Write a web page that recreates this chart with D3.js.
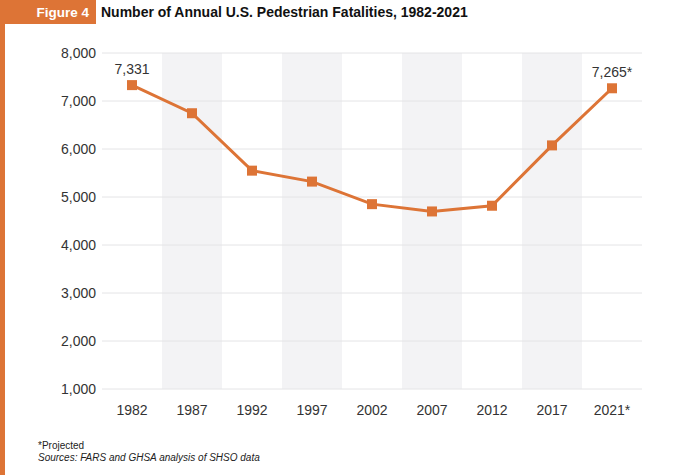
<!DOCTYPE html>
<html>
<head>
<meta charset="utf-8">
<script src="https://cdn.jsdelivr.net/npm/d3@7"></script>
<style>
  body { margin: 0; background: #fff; }
  text { font-family: "Liberation Sans", Arial, Helvetica, sans-serif; }
</style>
</head>
<body>
<div id="chart"></div>
<script>
const years = ["1982", "1987", "1992", "1997", "2002", "2007", "2012", "2017", "2021"];
const yearLabels = ["1982", "1987", "1992", "1997", "2002", "2007", "2012", "2017", "2021*"];
const fatalities = [7331, 6745, 5549, 5321, 4851, 4699, 4818, 6075, 7265];
const yTicks = [1000, 2000, 3000, 4000, 5000, 6000, 7000, 8000];
const labelled = { "1982": "7,331", "2021": "7,265*" };

const width = 680;
const height = 475;
const orange = "#dd7436";

const svg = d3.select("#chart")
    .append("svg")
    .attr("width", width)
    .attr("height", height);

// left accent bar and header tab
svg.append("rect")
    .attr("x", 0).attr("y", 0)
    .attr("width", 5).attr("height", height)
    .attr("fill", orange);

svg.append("rect")
    .attr("x", 2).attr("y", 0)
    .attr("width", 94).attr("height", 24)
    .attr("fill", orange);

svg.append("text")
    .attr("x", 89).attr("y", 17)
    .attr("text-anchor", "end")
    .attr("font-size", "13.5px")
    .attr("font-weight", "bold")
    .attr("fill", "#fff")
    .text("Figure 4");

svg.append("text")
    .attr("x", 101).attr("y", 17)
    .attr("font-size", "14px")
    .attr("font-weight", "bold")
    .attr("fill", "#111")
    .text("Number of Annual U.S. Pedestrian Fatalities, 1982-2021");

const x = d3.scaleBand()
    .domain(years)
    .range([102, 642]);

const y = d3.scaleLinear()
    .domain([1000, 8000])
    .range([389, 53]);

// alternating shaded columns
svg.append("g")
    .selectAll("rect")
    .data(years.filter((d, i) => i % 2 === 1))
    .enter().append("rect")
    .attr("x", d => x(d))
    .attr("y", y(8000))
    .attr("width", x.bandwidth())
    .attr("height", y(1000) - y(8000))
    .attr("fill", "#f3f3f5");

// gridlines
svg.append("g")
    .selectAll("line")
    .data(yTicks)
    .enter().append("line")
    .attr("x1", 102)
    .attr("x2", 642)
    .attr("y1", d => y(d))
    .attr("y2", d => y(d))
    .attr("stroke", "#e4e4e6")
    .attr("stroke-width", 1);

// y axis labels
const yAxis = svg.append("g")
    .attr("transform", "translate(96,0)")
    .call(d3.axisLeft(y).tickValues(yTicks).tickSize(0).tickPadding(0).tickFormat(d3.format(",")));
yAxis.select(".domain").remove();
yAxis.selectAll("text")
    .attr("font-size", "14px")
    .attr("fill", "#333")
    .style("font-family", "'Liberation Sans', Arial, sans-serif");

// x axis labels
const xAxis = svg.append("g")
    .attr("transform", `translate(0,${y(1000) + 10})`)
    .call(d3.axisBottom(x).tickSize(0).tickPadding(6).tickFormat((d, i) => yearLabels[i]));
xAxis.select(".domain").remove();
xAxis.selectAll("text")
    .attr("font-size", "14px")
    .attr("fill", "#333")
    .style("font-family", "'Liberation Sans', Arial, sans-serif");

const points = years.map((d, i) => ({ year: d, value: fatalities[i] }));

const line = d3.line()
    .x(d => x(d.year) + x.bandwidth() / 2)
    .y(d => y(d.value));

svg.append("path")
    .datum(points)
    .attr("d", line)
    .attr("fill", "none")
    .attr("stroke", orange)
    .attr("stroke-width", 3);

svg.append("g")
    .selectAll("rect")
    .data(points)
    .enter().append("rect")
    .attr("x", d => x(d.year) + x.bandwidth() / 2 - 5)
    .attr("y", d => y(d.value) - 5)
    .attr("width", 10)
    .attr("height", 10)
    .attr("fill", orange);

svg.append("g")
    .selectAll("text")
    .data(points.filter(d => labelled[d.year]))
    .enter().append("text")
    .attr("x", d => x(d.year) + x.bandwidth() / 2)
    .attr("y", d => y(d.value) - 11)
    .attr("text-anchor", "middle")
    .attr("font-size", "14px")
    .attr("fill", "#333")
    .text(d => labelled[d.year]);

// footnotes
svg.append("text")
    .attr("x", 38).attr("y", 449)
    .attr("font-size", "10px")
    .attr("fill", "#222")
    .text("*Projected");

svg.append("text")
    .attr("x", 38).attr("y", 461)
    .attr("font-size", "10px")
    .attr("font-style", "italic")
    .attr("fill", "#222")
    .text("Sources: FARS and GHSA analysis of SHSO data");
</script>
</body>
</html>
